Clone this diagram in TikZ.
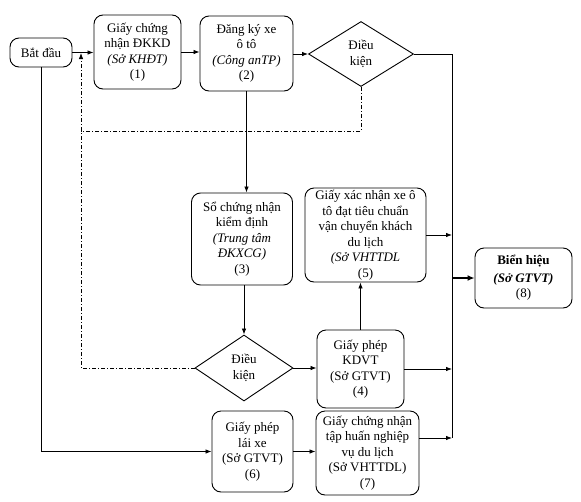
\documentclass[tikz,border=0pt]{standalone}
\usepackage{fontspec}
\setmainfont{Liberation Serif}
\usetikzlibrary{arrows.meta,shapes.geometric}
\begin{document}
\begin{tikzpicture}[x=1pt,y=-1pt,
  box/.style={draw,rounded corners=9pt,line width=0.9pt,align=center,inner sep=0pt,
    font=\fontsize{13}{15.5}\selectfont},
  cond/.style={draw,diamond,line width=0.9pt,align=center,inner sep=0pt,aspect=1.5,
    font=\fontsize{13}{15.5}\selectfont},
  conn/.style={line width=0.8pt},
  arr/.style={line width=0.8pt,-{Latex[length=6pt,width=4.5pt]}},
  thick arr/.style={line width=2pt,-{Latex[length=7pt,width=6pt]}},
  dd/.style={line width=0.8pt,dash pattern=on 4pt off 2pt on 1pt off 2pt},
  dda/.style={dd,-{Latex[length=6pt,width=4.5pt]}}]
\useasboundingbox (0,0) rectangle (581,501);

\node[box,minimum width=62pt,minimum height=29pt] (start) at (41,52.5) {Bắt đầu};
\node[box,minimum width=87pt,minimum height=74pt] (n1) at (137.5,52) {Giấy chứng\\nhận ĐKKD\\\textit{(Sở KHĐT)}\\(1)};
\node[box,minimum width=93pt,minimum height=75pt] (n2) at (246.5,53.5) {Đăng ký xe\\ô tô\\\textit{(Công anTP)}\\(2)};
\node[cond,minimum width=105pt,minimum height=65pt] (d1) at (361,54) {Điều\\kiện};
\node[box,minimum width=101pt,minimum height=92pt] (n3) at (242,239) {Sổ chứng nhận\\kiểm định\\\textit{(Trung tâm}\\\textit{ĐKXCG)}\\(3)};
\node[box,minimum width=121pt,minimum height=94pt] (n5) at (365.5,235) {Giấy xác nhận xe ô\\tô đạt tiêu chuẩn\\vận chuyển khách\\du lịch\\\textit{(Sở VHTTDL}\\(5)};
\node[box,minimum width=97pt,minimum height=60pt] (n8) at (523.5,278) {\textbf{Biển hiệu}\\[2pt]\textbf{\textit{(Sở GTVT)}}\\(8)};
\node[cond,minimum width=98pt,minimum height=66pt] (d2) at (244,368) {Điều\\kiện};
\node[box,minimum width=87pt,minimum height=78pt] (n4) at (360.5,369) {Giấy phép\\KDVT\\(Sở GTVT)\\(4)};
\node[box,minimum width=81pt,minimum height=81pt] (n6) at (252.5,451.5) {Giấy phép\\lái xe\\(Sở GTVT)\\(6)};
\node[box,minimum width=103pt,minimum height=84pt] (n7) at (367.5,453) {Giấy chứng nhận\\tập huấn nghiệp\\vụ du lịch\\(Sở VHTTDL)\\(7)};

\coordinate (bt) at (452,54);
\coordinate (bb) at (452,438);
\coordinate (dc) at (81,131);
\coordinate (dj) at (81,53);

% main row
\draw[arr] (start.east) -- (start.east -| n1.west);
\draw[arr] (n1.east) -- (n1.east -| n2.west);
\draw[arr] (n2.east |- d1.west) -- (d1.west);
% bus
\draw[conn] (d1.east) -- (bt) -- (bb);
\draw[arr] (n5.east) -- (n5.east -| bt);
\draw[arr] (n4.east) -- (n4.east -| bt);
\draw[arr] (n7.east |- bb) -- (bb);
\draw[thick arr] (n8.west -| bt) -- (n8.west);
% column
\draw[arr] (n2.south) -- (n2.south |- n3.north);
\draw[arr] (n3.south -| d2.north) -- (d2.north);
\draw[arr] (d2.east) -- (d2.east -| n4.west);
\draw[arr] (n4.north) -- (n4.north |- n5.south);
% left route
\draw[arr] (start.south) |- (n6.west);
\draw[arr] (n6.east) -- (n6.east -| n7.west);
% dash-dot feedback
\draw[dd] (d1.south) |- (dc);
\draw[dda] (d2.west) -| (dj);
\end{tikzpicture}
\end{document}
